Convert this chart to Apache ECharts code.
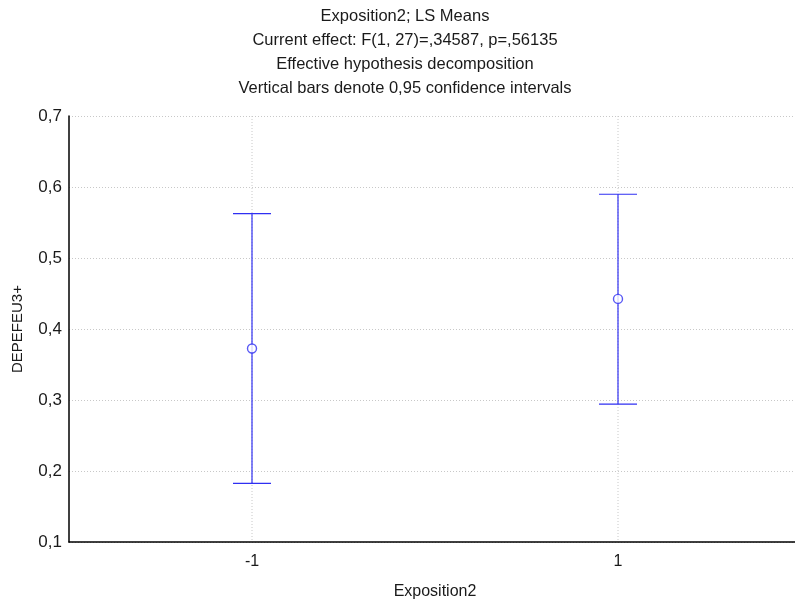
<!DOCTYPE html>
<html><head><meta charset="utf-8">
<script src="https://cdn.jsdelivr.net/npm/echarts@6/dist/echarts.min.js"></script>
<style>html,body{margin:0;padding:0;background:#fff}#c{width:795px;height:600px}</style>
</head><body><div id="c"></div>
<script>
const categories = ['-1', '1'];
const means = [0.3726, 0.4424];
const lower = [0.1826, 0.2942];
const upper = [0.5626, 0.5898];
const yTicks = [0.1, 0.7, 0.1]; // min, max, interval
const titleLines = ['Exposition2; LS Means', 'Current effect: F(1, 27)=,34587, p=,56135', 'Effective hypothesis decomposition', 'Vertical bars denote 0,95 confidence intervals'];
const xName = 'Exposition2';
const yName = 'DEPEFEU3+';

const FONT = 'Liberation Sans, Arial, sans-serif';
const BLUE = '#2f2ff2';
const TXT = '#1a1a1a';
const chart = echarts.init(document.getElementById('c'), null, {renderer: 'canvas'});
const errData = categories.map((c, i) => [i, lower[i], upper[i]]);
const option = {
  animation: false,
  backgroundColor: '#fff',
  graphic: titleLines.map((t, i) => ({
    type: 'text', x: 405, y: 16 + i * 24,
    style: {text: t, font: '16.5px ' + FONT, fill: TXT, textAlign: 'center', textVerticalAlign: 'middle'}
  })),
  grid: {left: 69, top: 116, width: 732, height: 426, containLabel: false, outerBoundsMode: 'none'},
  xAxis: {
    type: 'category', data: categories, boundaryGap: true,
    name: xName, nameLocation: 'middle', nameGap: 42,
    nameTextStyle: {fontFamily: FONT, fontSize: 16, color: TXT},
    axisLine: {lineStyle: {color: '#000', width: 1.5}},
    axisTick: {show: false},
    axisLabel: {fontFamily: FONT, fontSize: 16, color: TXT, margin: 12},
    splitLine: {show: false}
  },
  yAxis: {
    type: 'value', min: yTicks[0], max: yTicks[1], interval: yTicks[2],
    name: yName, nameLocation: 'middle', nameGap: 44, nameRotate: 90,
    nameTextStyle: {fontFamily: FONT, fontSize: 15, color: TXT},
    axisLine: {show: true, lineStyle: {color: '#000', width: 1.5}},
    axisTick: {show: false},
    axisLabel: {fontFamily: FONT, fontSize: 17, color: TXT, margin: 7,
      formatter: v => v.toFixed(1).replace('.', ',')},
    splitLine: {show: true, lineStyle: {color: '#c8c8c8', type: [1, 2], width: 1}}
  },
  series: [
    {
      type: 'custom', data: errData, z: 3,
      renderItem: function (params, api) {
        const x = api.value(0);
        const lo = api.coord([x, api.value(1)]);
        const hi = api.coord([x, api.value(2)]);
        const cs = params.coordSys;
        const hw = 19;
        const st = {stroke: BLUE, lineWidth: 1.2};
        return {type: 'group', children: [
          {type: 'line', z2: 0, shape: {x1: lo[0], y1: cs.y, x2: lo[0], y2: cs.y + cs.height},
            style: {stroke: '#c8c8c8', lineWidth: 1, lineDash: [1, 2]}},
          {type: 'line', z2: 1, shape: {x1: lo[0], y1: lo[1], x2: hi[0], y2: hi[1]}, style: st},
          {type: 'line', z2: 1, shape: {x1: lo[0] - hw, y1: lo[1], x2: lo[0] + hw, y2: lo[1]}, style: st},
          {type: 'line', z2: 1, shape: {x1: hi[0] - hw, y1: hi[1], x2: hi[0] + hw, y2: hi[1]}, style: st}
        ]};
      }
    },
    {
      type: 'scatter', data: means.map((m, i) => [i, m]), z: 5,
      symbol: 'circle', symbolSize: 9,
      itemStyle: {color: '#fff', borderColor: BLUE, borderWidth: 1.4}
    }
  ]
};
chart.setOption(option);
</script></body></html>
